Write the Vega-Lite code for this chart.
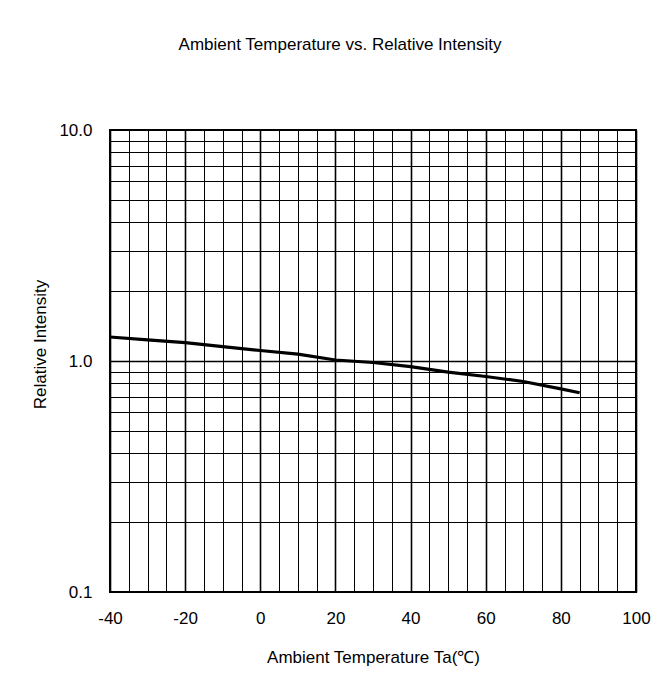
{
  "$schema": "https://vega.github.io/schema/vega-lite/v6.json",
  "width": 526,
  "height": 462,
  "autosize": {"type": "none"},
  "padding": {"left": 110, "top": 130, "right": 30, "bottom": 94},
  "background": "white",
  "title": {
    "text": "Ambient Temperature vs. Relative Intensity",
    "font": "Liberation Sans",
    "fontSize": 17,
    "fontWeight": "normal",
    "color": "black",
    "anchor": "middle",
    "offset": 67,
    "dx": -33
  },
  "config": {
    "view": {"stroke": "black", "strokeWidth": 2},
    "font": "Liberation Sans"
  },
  "data": {
    "values": [
      {"T": -40, "I": 1.27},
      {"T": -30, "I": 1.235},
      {"T": -20, "I": 1.2},
      {"T": -10, "I": 1.155},
      {"T": 0, "I": 1.11},
      {"T": 10, "I": 1.07},
      {"T": 20, "I": 1.01},
      {"T": 30, "I": 0.985},
      {"T": 40, "I": 0.945},
      {"T": 50, "I": 0.895},
      {"T": 60, "I": 0.857},
      {"T": 70, "I": 0.815},
      {"T": 80, "I": 0.757},
      {"T": 85, "I": 0.729}
    ]
  },
  "mark": {"type": "line", "color": "black", "strokeWidth": 3.2},
  "encoding": {
    "x": {
      "field": "T",
      "type": "quantitative",
      "scale": {"domain": [-40, 100], "nice": false, "zero": false},
      "axis": {
        "values": [-40, -35, -30, -25, -20, -15, -10, -5, 0, 5, 10, 15, 20, 25, 30, 35, 40, 45, 50, 55, 60, 65, 70, 75, 80, 85, 90, 95, 100],
        "labelExpr": "datum.value % 20 === 0 ? toString(datum.value) : ''",
        "grid": true,
        "gridColor": "black",
        "gridOpacity": 1,
        "gridWidth": {"condition": {"test": "datum.value % 20 === 0", "value": 1.6}, "value": 1},
        "ticks": false,
        "domain": false,
        "labelFontSize": 17,
        "labelColor": "black",
        "labelPadding": 18,
        "labelFlush": false,
        "title": "Ambient Temperature Ta(℃)",
        "titleFontSize": 17,
        "titleFontWeight": "normal",
        "titleColor": "black",
        "titlePadding": 23
      }
    },
    "y": {
      "field": "I",
      "type": "quantitative",
      "scale": {"type": "log", "domain": [0.1, 10], "nice": false},
      "axis": {
        "values": [0.1, 0.2, 0.3, 0.4, 0.5, 0.6, 0.7, 0.8, 0.9, 1, 2, 3, 4, 5, 6, 7, 8, 9, 10],
        "format": ".1f",
        "labelExpr": "(datum.value === 0.1 || datum.value === 1 || datum.value === 10) ? datum.label : ''",
        "grid": true,
        "gridColor": "black",
        "gridOpacity": 1,
        "gridWidth": {"condition": {"test": "datum.value === 1", "value": 1.6}, "value": 1},
        "ticks": false,
        "domain": false,
        "labelFontSize": 17,
        "labelColor": "black",
        "labelPadding": 18,
        "labelFlush": false,
        "title": "Relative Intensity",
        "titleFontSize": 17,
        "titleFontWeight": "normal",
        "titleColor": "black",
        "titleX": -61,
        "titleY": 214
      }
    }
  }
}
